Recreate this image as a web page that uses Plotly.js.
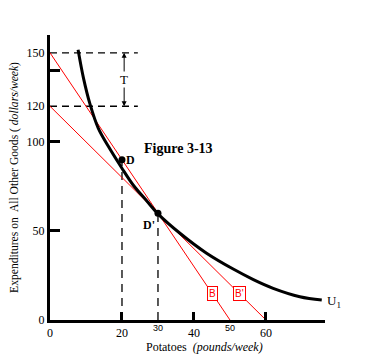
<!DOCTYPE html>
<html>
<head>
<meta charset="utf-8">
<script src="https://cdn.plot.ly/plotly-3.0.1.min.js"></script>
<style>html,body{margin:0;padding:0;background:#fff;}#chart{width:384px;height:361px;}</style>
</head>
<body>
<div id="chart"></div>
<script>
// Indifference curve U1
var uX = [7.8, 9.3, 11.1, 13.4, 16.2, 19.9, 23.1, 26.9, 30.0, 36.1, 43.5, 50.9, 56.5, 62.0, 69.4, 75.5];
var uY = [151.7, 135.8, 121.3, 107.7, 97.5, 85.5, 75.8, 66.8, 59.6, 48.7, 37.5, 28.6, 22.7, 17.8, 13.1, 11.2];
// Budget lines
var budgetB_X = [0, 50];
var budgetB_Y = [150, 0];
var budgetBp_X = [0, 60];
var budgetBp_Y = [120, 0];
// Points
var ptLabels = ["D", "D'"];
var ptX = [20, 30];
var ptY = [90, 60];
// Guide (dashed) lines
var guideH_Y = [150, 120];
var guideH_X = [0, 24.4];
var guideV_X = [20, 30];
var guideV_Top = [94, 60];
// Axis ticks
var xTickVals = [0, 20, 40, 60];
var xTickText = ["0", "20", "40", "60"];
var xSmallVals = [30, 50];
var xSmallText = ["30", "50"];
var yTickVals = [0, 50, 100, 120, 150];
var yTickText = ["0", "50", "100", "120", "150"];
var yMarkVals = [50, 100, 140];
// Tax T
var taxX = 20.6;
var taxTop = 150, taxBottom = 120;

var serif = "Liberation Serif, Times New Roman, serif";
var traces = [];

guideH_Y.forEach(function (yv) {
  traces.push({x: guideH_X, y: [yv, yv], mode: "lines", line: {color: "black", width: 1.3, dash: "7px,5px"}, hoverinfo: "skip", showlegend: false});
});
guideV_X.forEach(function (xv, i) {
  traces.push({x: [xv, xv], y: [0, guideV_Top[i]], mode: "lines", line: {color: "black", width: 1.3, dash: "8px,6px"}, hoverinfo: "skip", showlegend: false});
});
traces.push({x: budgetB_X, y: budgetB_Y, mode: "lines", line: {color: "red", width: 1}, showlegend: false, name: "B"});
traces.push({x: budgetBp_X, y: budgetBp_Y, mode: "lines", line: {color: "red", width: 1}, showlegend: false, name: "B'"});
traces.push({x: uX, y: uY, mode: "lines", line: {color: "black", width: 3, shape: "spline", smoothing: 1}, showlegend: false, name: "U1"});
traces.push({x: ptX, y: ptY, mode: "markers", marker: {color: "black", size: 7}, showlegend: false});
// overlay axis for tick marks only
traces.push({x: [0], y: [0], yaxis: "y2", mode: "markers", marker: {opacity: 0}, hoverinfo: "skip", showlegend: false});

var ann = [];
ann.push({x: ptX[0], y: ptY[0], text: "<b>" + ptLabels[0] + "</b>", showarrow: false, xanchor: "left", xshift: 2, font: {family: serif, size: 12, color: "black"}});
ann.push({x: ptX[1], y: ptY[1], text: "<b>" + ptLabels[1] + "</b>", showarrow: false, xanchor: "right", yanchor: "top", xshift: -1, yshift: -3, font: {family: serif, size: 12, color: "black"}});
var boxY = 14.6;
ann.push({x: budgetB_X[1] * (1 - boxY / budgetB_Y[0]), y: boxY, text: "B", showarrow: false, bgcolor: "white", bordercolor: "red", borderwidth: 1, borderpad: 1, font: {family: "Liberation Sans, Arial, sans-serif", size: 10, color: "red"}});
ann.push({x: budgetBp_X[1] * (1 - boxY / budgetBp_Y[0]), y: boxY, text: "B'", showarrow: false, bgcolor: "white", bordercolor: "red", borderwidth: 1, borderpad: 1, font: {family: "Liberation Sans, Arial, sans-serif", size: 10, color: "red"}});
ann.push({x: uX[uX.length - 1], y: uY[uY.length - 1], text: "U<sub>1</sub>", showarrow: false, xanchor: "left", xshift: 3, yshift: -1, font: {family: serif, size: 13, color: "black"}});
ann.push({x: (178 - 50) / 275, y: (320 - 148) / 285, xref: "paper", yref: "paper", text: "<b>Figure 3-13</b>", showarrow: false, font: {family: serif, size: 14, color: "black"}});
ann.push({x: taxX, y: taxTop, ax: taxX, ay: (taxTop + taxBottom) / 2, axref: "x", ayref: "y", text: "", showarrow: true, arrowhead: 2, arrowsize: 1, arrowwidth: 1, arrowcolor: "black"});
ann.push({x: taxX, y: taxBottom, ax: taxX, ay: (taxTop + taxBottom) / 2, axref: "x", ayref: "y", text: "", showarrow: true, arrowhead: 2, arrowsize: 1, arrowwidth: 1, arrowcolor: "black"});
ann.push({x: taxX, y: (taxTop + taxBottom) / 2, text: "T", showarrow: false, bgcolor: "white", borderpad: 0, font: {family: serif, size: 13, color: "black"}});
xSmallVals.forEach(function (v, i) {
  ann.push({x: v, y: 0, yref: "paper", text: xSmallText[i], showarrow: false, yanchor: "top", yshift: -1, font: {family: "Liberation Sans, Arial, sans-serif", size: 9, color: "black"}});
});
ann.push({x: 0.56, y: 0, xref: "paper", yref: "paper", text: "Potatoes  <i>(pounds/week)</i>", showarrow: false, yanchor: "top", yshift: -18, font: {family: serif, size: 12, color: "black"}});

var layout = {
  width: 384, height: 361,
  margin: {l: 50, r: 59, t: 35, b: 41},
  paper_bgcolor: "white", plot_bgcolor: "white",
  showlegend: false,
  xaxis: {
    range: [0, 76.4], showgrid: false, zeroline: false,
    showline: true, linewidth: 3, linecolor: "black",
    tickvals: xTickVals, ticktext: xTickText,
    ticks: "inside", ticklen: 8, tickwidth: 3, tickcolor: "black",
    tickfont: {family: serif, size: 12, color: "black"},
    fixedrange: true
  },
  yaxis: {
    range: [0, 160], showgrid: false, zeroline: false,
    showline: true, linewidth: 3, linecolor: "black",
    tickvals: yTickVals, ticktext: yTickText, ticks: "",
    tickfont: {family: serif, size: 12, color: "black"},
    title: {text: "Expenditures on  All Other Goods ( <i>dollars/week</i>)", font: {family: serif, size: 11.6, color: "black"}, standoff: 6},
    automargin: false, fixedrange: true
  },
  yaxis2: {
    overlaying: "y", side: "left", range: [0, 160], showgrid: false, zeroline: false,
    showline: false, tickvals: yMarkVals, showticklabels: false,
    ticks: "inside", ticklen: 10, tickwidth: 3, tickcolor: "black", fixedrange: true
  },
  annotations: ann
};

Plotly.newPlot("chart", traces, layout, {displayModeBar: false, staticPlot: true});
</script>
</body>
</html>
